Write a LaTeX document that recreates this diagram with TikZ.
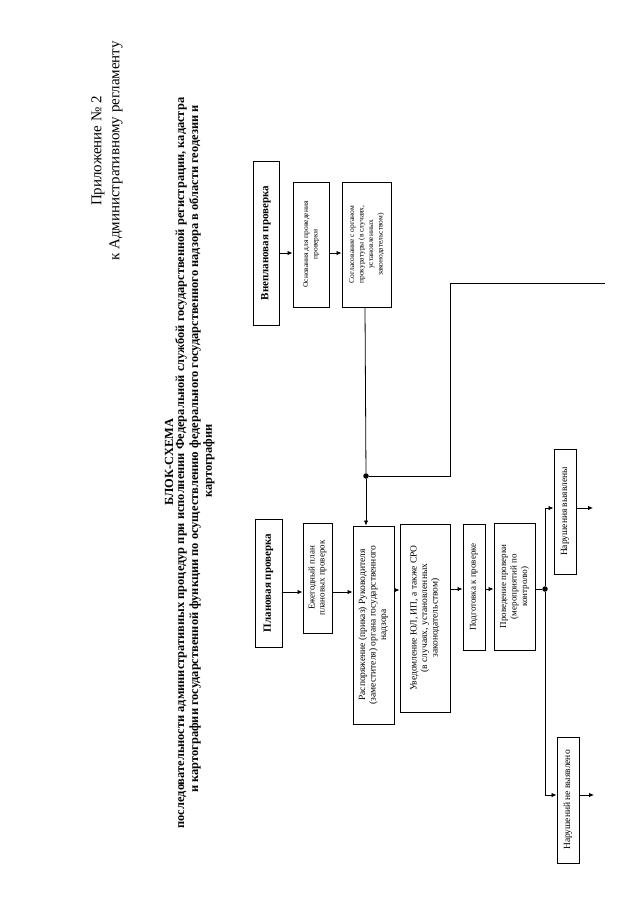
\documentclass[tikz,border=0pt]{standalone}
\usepackage{fontspec}
\setmainfont{Liberation Serif}
\usetikzlibrary{arrows.meta}
\tikzset{
  box/.style={draw, line width=1pt, inner sep=0pt, anchor=center},
  conn/.style={line width=0.8pt},
  arr/.style={conn, -{Latex[length=5pt,width=4.5pt]}},
  dot/.style={circle, fill, inner sep=0pt, minimum size=5.5pt},
  ttl/.style={rotate=90, inner sep=0pt, font=\fontsize{12.4}{14.5}\selectfont\bfseries},
}
\begin{document}
\begin{tikzpicture}[x=1pt,y=-1pt]
\useasboundingbox[fill=white] (0,0) rectangle (640,905);
% header
\node[rotate=90, align=center, font=\fontsize{15}{18}\selectfont] (hdr) at (107,151)
  {Приложение № 2\\к Административному регламенту};
\node[ttl] (t1) at (169,462) {БЛОК-СХЕМА};
\node[ttl] (t2) at (181,463) {последовательности административных процедур при исполнении Федеральной службой государственной регистрации, кадастра};
\node[ttl] (t3) at (195,449) {и картографии государственной функции по осуществлению федерального государственного надзора в области геодезии и};
\node[ttl] (t4) at (209,461) {картографии};
% boxes
\node[box, minimum width=26pt, minimum height=164pt] (vnepl) at (266,243)
  {\rotatebox{90}{\fontsize{11}{13}\selectfont\bfseries Внеплановая проверка}};
\node[box, minimum width=36pt, minimum height=125pt] (osn) at (311,244.5)
  {\rotatebox{90}{\fontsize{7.5}{9.5}\selectfont\begin{tabular}{@{}c@{}}Основания для проведения\\проверки\end{tabular}}};
\node[box, minimum width=49pt, minimum height=125pt] (sogl) at (366.5,244.5)
  {\rotatebox{90}{\fontsize{7.5}{9.5}\selectfont\begin{tabular}{@{}c@{}}Согласование с органом\\прокуратуры (в случаях,\\установленных\\законодательством)\end{tabular}}};
\node[box, minimum width=27pt, minimum height=128pt] (plan) at (268.5,583)
  {\rotatebox{90}{\fontsize{11}{13}\selectfont\bfseries Плановая проверка}};
\node[box, minimum width=29pt, minimum height=110pt] (ezheg) at (317.5,578)
  {\rotatebox{90}{\fontsize{9}{10}\selectfont\begin{tabular}{@{}c@{}}Ежегодный план\\плановых проверок\end{tabular}}};
\node[box, minimum width=41pt, minimum height=198pt] (rasp) at (373.5,625)
  {\rotatebox{90}{\fontsize{9.5}{10.5}\selectfont\begin{tabular}{@{}c@{}}Распоряжение (приказ) Руководителя\\(заместителя) органа государственного\\надзора\end{tabular}}};
\node[box, minimum width=50pt, minimum height=188pt] (uved) at (425,618)
  {\rotatebox{90}{\fontsize{9.5}{10.5}\selectfont\begin{tabular}{@{}c@{}}Уведомление ЮЛ, ИП, а также СРО\\(в случаях, установленных\\законодательством)\end{tabular}}};
\node[box, minimum width=22pt, minimum height=126pt] (podg) at (474,587)
  {\rotatebox{90}{\fontsize{9}{10}\selectfont Подготовка к проверке}};
\node[box, minimum width=41pt, minimum height=127pt] (prov) at (514.5,586.5)
  {\rotatebox{90}{\fontsize{9}{10.5}\selectfont\begin{tabular}{@{}c@{}}Проведение проверки\\(мероприятий по\\контролю)\end{tabular}}};
\node[box, minimum width=22pt, minimum height=125pt] (narV) at (565,511.5)
  {\rotatebox{90}{\fontsize{9.5}{10}\selectfont Нарушения выявлены}};
\node[box, minimum width=22pt, minimum height=126pt] (narN) at (568,800)
  {\rotatebox{90}{\fontsize{9.5}{10}\selectfont Нарушений не выявлено}};
% junctions and free ends
\node[dot] (j1) at (366,476) {};
\node[dot] (j2) at (545,589) {};
\coordinate (edge) at (605,283);
\coordinate (c1) at (450,283);
\coordinate (c2) at (450,476);
\coordinate (outV) at (593,508);
\coordinate (outN) at (594,795);
% connectors
\draw[arr] (vnepl.east |- 0,253) -- (osn.west |- 0,253);
\draw[arr] (osn.east |- 0,253) -- (sogl.west |- 0,253);
\draw[conn] (sogl.south -| 365,0) -- (j1);
\draw[conn] (edge) -- (c1) -- (c2) -- (j1);
\draw[arr] (j1) -- (j1 |- rasp.north);
\draw[arr] (plan.east |- 0,592) -- (ezheg.west |- 0,592);
\draw[arr] (ezheg.east |- 0,592) -- (rasp.west |- 0,592);
\draw[arr] (rasp.east |- 0,590) -- (uved.west |- 0,590);
\draw[arr] (uved.east |- 0,589) -- (podg.west |- 0,589);
\draw[arr] (podg.east |- 0,589) -- (prov.west |- 0,589);
\draw[conn] (prov.east |- j2) -- (j2);
\draw[arr] (j2) -- (545,508) -- (narV.west |- 0,508);
\draw[arr] (narV.east |- 0,508) -- (outV);
\draw[arr] (j2) -- (545,795) -- (narN.west |- 0,795);
\draw[arr] (narN.east |- 0,795) -- (outN);
\end{tikzpicture}
\end{document}
